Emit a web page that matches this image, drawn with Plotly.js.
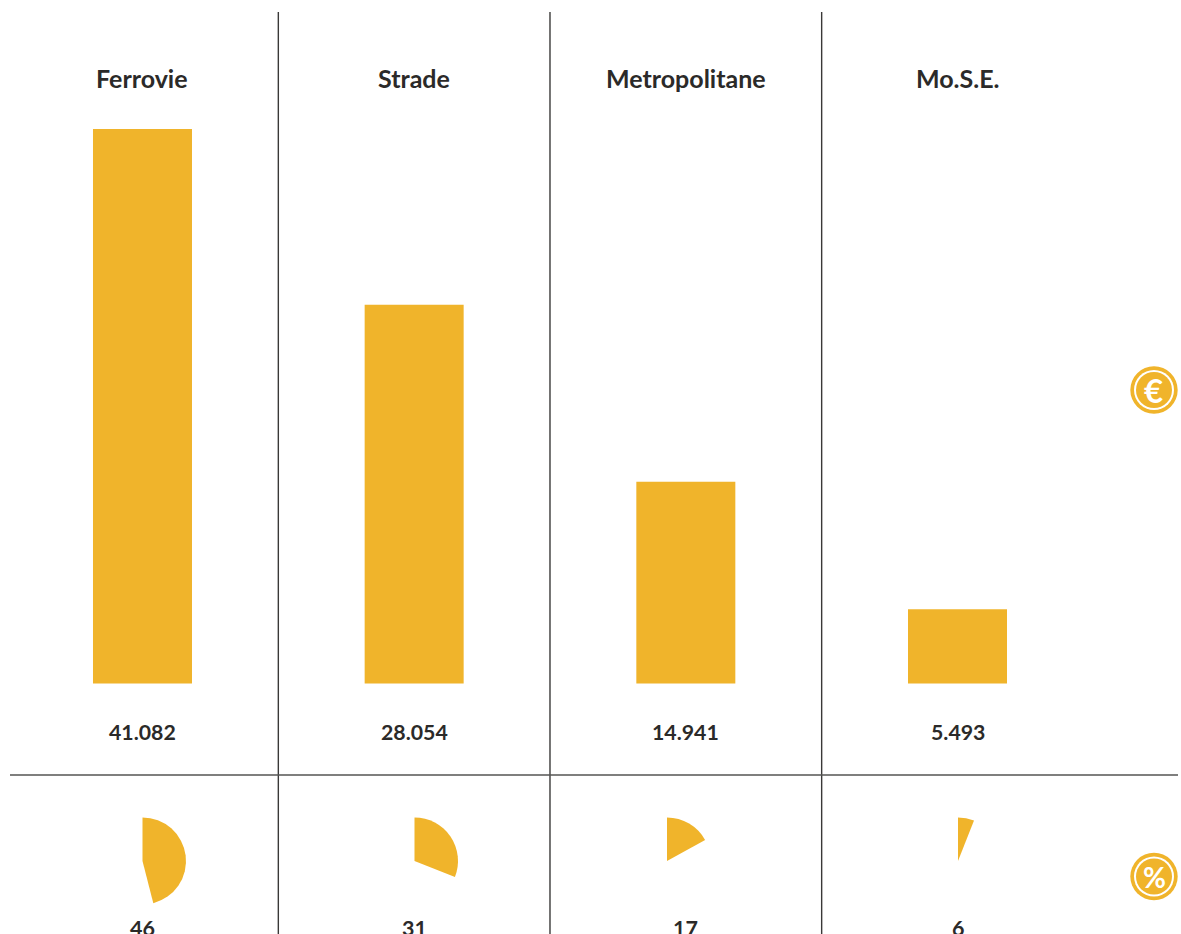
<!DOCTYPE html>
<html>
<head>
<meta charset="utf-8">
<script src="https://cdn.plot.ly/plotly-3.0.1.min.js"></script>
<style>
  html, body { margin: 0; padding: 0; background: #fff; overflow: hidden; }
  #chart { width: 1181px; height: 934px; }
</style>
</head>
<body>
<div id="chart"></div>
<script>
// Public works: spending (millions of euro) and share of the total (%)
const categories = ["Ferrovie", "Strade", "Metropolitane", "Mo.S.E."];
const costs = [41082, 28054, 14941, 5493];
const shares = [46, 31, 17, 6];
const costLabels = ["41.082", "28.054", "14.941", "5.493"];
const shareLabels = ["46", "31", "17", "6"];

const W = 1181, H = 934;
const GOLD = "#F0B42B";
const INK = "#2B2A29";
const FONT = "Lato, 'Open Sans', sans-serif";

// Vertical pixel helper for paper-referenced items
const py = px => 1 - px / H;
const px = v => v / W;

// Pie centres in each column
const pieCentres = [142.5, 414.5, 667, 958];
const pieCy = 861, pieR = 43.5;

const bars = {
  type: "bar",
  x: categories,
  y: costs,
  width: 0.3644,
  marker: { color: GOLD, line: { width: 0 } },
  hoverinfo: "x+y",
  showlegend: false
};

const pies = shares.map((s, i) => ({
  type: "pie",
  values: [s, 100 - s],
  labels: [categories[i], "resto"],
  sort: false,
  direction: "clockwise",
  rotation: 0,
  textinfo: "none",
  hoverinfo: "label+percent",
  showlegend: false,
  automargin: false,
  marker: { colors: [GOLD, "rgba(0,0,0,0)"], line: { width: 0 } },
  domain: {
    x: [px(pieCentres[i] - pieR), px(pieCentres[i] + pieR)],
    y: [py(pieCy + pieR), py(pieCy - pieR)]
  }
}));

const label = (x, xref, yPixel, text, size, color) => ({
  x, xref, y: py(yPixel), yref: "paper",
  text, showarrow: false, xanchor: "center", yanchor: "middle",
  font: { family: FONT, size, color: color || INK, weight: 700 }
});

const annotations = [];
categories.forEach((c, i) => {
  annotations.push(label(c, "x", 78.5, c, 25));
  annotations.push(label(c, "x", 731.5, costLabels[i], 21.3));
  annotations.push(label(c, "x", 928, shareLabels[i], 21.5));
});

// Badge glyphs at the right edge
const badgeX = 1154, badgeEuroY = 390, badgePctY = 876.5;
annotations.push(label(px(badgeX - 1), "paper", badgeEuroY, "€", 33, "#fff"));
annotations.push(label(px(badgeX), "paper", badgePctY, "%", 28, "#fff"));

const circle = (cx, cy, r, fill) => ({
  type: "circle", xref: "paper", yref: "paper",
  x0: px(cx - r), x1: px(cx + r), y0: py(cy + r), y1: py(cy - r),
  fillcolor: fill, line: { width: 0 }, layer: "above"
});
const badge = (cx, cy) => [
  circle(cx, cy, 23.7, GOLD),
  circle(cx, cy, 20, "#fff"),
  circle(cx, cy, 18, GOLD)
];

// Column dividers fall midway between categories
const dividers = [0.5, 1.5, 2.5].map(x => ({
  type: "line", xref: "x", yref: "paper",
  x0: x, x1: x, y0: 0, y1: py(12),
  line: { color: "#3A3938", width: 1.4 }
}));
const rule = {
  type: "line", xref: "paper", yref: "paper",
  x0: px(10), x1: px(1178), y0: py(775), y1: py(775),
  line: { color: "#555453", width: 1.5 }
};

const layout = {
  width: W, height: H,
  margin: { l: 0, r: 0, t: 0, b: 0 },
  paper_bgcolor: "#fff",
  plot_bgcolor: "#fff",
  xaxis: {
    type: "category", categoryorder: "array", categoryarray: categories,
    range: [-0.5245, 3.8227], visible: false, fixedrange: true
  },
  yaxis: { range: [-18560, 50640], visible: false, fixedrange: true },
  shapes: [...dividers, rule, ...badge(badgeX, badgeEuroY), ...badge(badgeX, badgePctY)],
  annotations
};

Plotly.newPlot("chart", [bars, ...pies], layout, { displayModeBar: false, responsive: false });
</script>
</body>
</html>
